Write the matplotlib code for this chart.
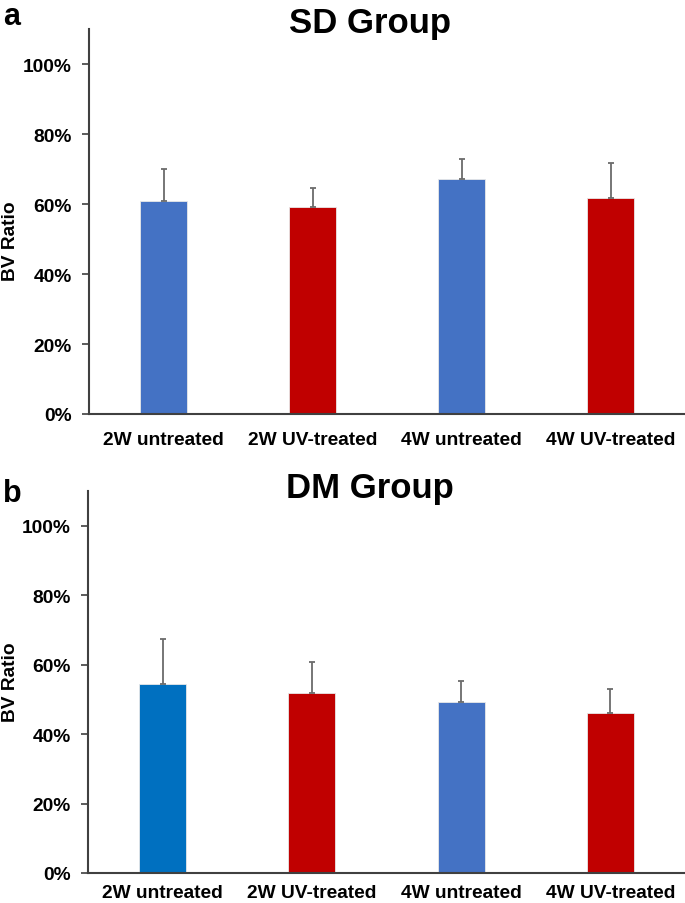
import matplotlib
matplotlib.use("Agg")
import matplotlib.pyplot as plt
import numpy as np

plt.rcParams['font.family'] = ['Liberation Sans', 'DejaVu Sans']

categories = ["2W untreated", "2W UV-treated", "4W untreated", "4W UV-treated"]
sd_values = [60.8, 59.2, 67.2, 61.7]
sd_err = [9.3, 5.3, 5.6, 10.0]
dm_values = [54.3, 51.7, 49.1, 46.2]
dm_err = [13.2, 9.2, 6.2, 6.8]
sd_colors = ["#4472C4", "#C00000", "#4472C4", "#C00000"]
dm_colors = ["#0070C0", "#C00000", "#4472C4", "#C00000"]
yticks = [0, 20, 40, 60, 80, 100]
ytick_labels = ["0%", "20%", "40%", "60%", "80%", "100%"]

fig = plt.figure(figsize=(6.85, 9.04), dpi=100)

def panel(rect, values, err, colors, title, letter, title_y, letter_y, ylab_y, xpad):
    ax = fig.add_axes(rect)
    x = np.arange(len(categories))
    ax.bar(x, values, width=0.315, color=colors, edgecolor="#e8e8e8", linewidth=0.6, zorder=2)
    ax.errorbar(x, values, yerr=[np.zeros(len(err)), err], fmt="none",
                ecolor="#6b6b6b", elinewidth=1.3, capsize=2.5, capthick=1.3, zorder=3)
    ax.set_xlim(-0.5, 3.5)
    ax.set_ylim(0, 110)
    ax.set_yticks(yticks)
    ax.set_yticklabels(ytick_labels, fontsize=13.8, fontweight="bold")
    ax.set_xticks(x)
    ax.set_xticklabels(categories, fontsize=13.8, fontweight="bold")
    ax.tick_params(axis="x", length=0, pad=xpad)
    ax.tick_params(axis="y", length=5, width=1.2, color="#404040", pad=7.5)
    for s in ["top", "right"]:
        ax.spines[s].set_visible(False)
    for s in ["left", "bottom"]:
        ax.spines[s].set_color("#404040")
        ax.spines[s].set_linewidth(1.5)
    fig.text(11 / 685, ylab_y, "BV Ratio", fontsize=13.8, fontweight="bold",
             rotation=90, ha="center", va="center")
    fig.text(370 / 685, title_y, title, fontsize=25, fontweight="bold", ha="center", va="center")
    fig.text(0.004, letter_y, letter, fontsize=22, fontweight="bold", ha="left", va="center")
    return ax

panel([89 / 685, 1 - 415 / 904, 596 / 685, 385 / 904], sd_values, sd_err, sd_colors,
      "SD Group", "a", 1 - 24 / 904, 1 - 17 / 904, 1 - 241 / 904, 12)
panel([88 / 685, 1 - 874 / 904, 597 / 685, 382 / 904], dm_values, dm_err, dm_colors,
      "DM Group", "b", 1 - 489 / 904, 1 - 494 / 904, 1 - 682 / 904, 8)

fig.savefig("out.png", dpi=100)
